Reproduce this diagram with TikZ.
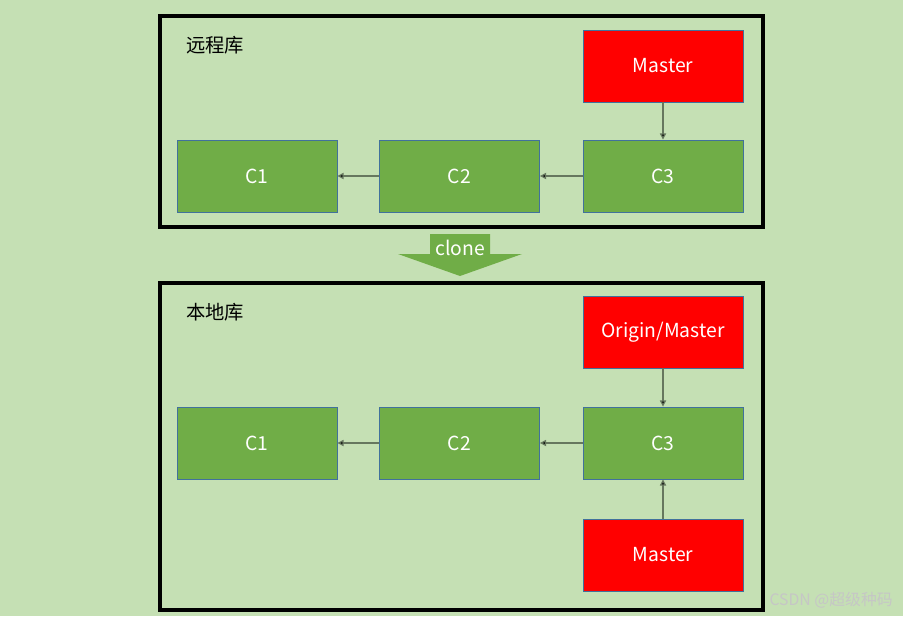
\documentclass[tikz,border=0pt]{standalone}
\usepackage{fontspec}
\setmainfont{Noto Sans CJK SC}
\usepackage{tikz}
\usetikzlibrary{positioning,arrows.meta}

\definecolor{PageGreen}{HTML}{C5E0B4}
\definecolor{CommitGreen}{HTML}{70AD47}
\definecolor{BoxEdge}{HTML}{41719C}
\definecolor{LinkGray}{HTML}{66775E}

\begin{document}
\begin{tikzpicture}[x=0.02cm, y=-0.02cm,
    commit/.style={draw=BoxEdge, line width=0.5pt, fill=CommitGreen, text=white,
      minimum width=3.2cm, minimum height=1.44cm, font=\fontsize{11}{13}\selectfont},
    branch/.style={commit, fill=red},
    repo/.style={draw=black, line width=2.2pt, minimum width=12.06cm},
    link/.style={LinkGray, line width=0.7pt, -{Triangle[length=3.5pt,width=3.5pt,fill=black]}}]
    % page
    \fill[PageGreen] (0,0) rectangle (903,616);
    \useasboundingbox (0,0) rectangle (903,616);

    % remote repository
    \node[repo, minimum height=4.22cm] (Remote) at (461.5,121.5) {};
    \node[anchor=west, font=\fontsize{11}{13}\selectfont] (RemoteLabel) at (180,45) {远程库};
    \node[branch] (RemoteMaster) at (663,66) {Master};
    \node[commit] (RemoteC1) at (257,176) {C1};
    \node[commit] (RemoteC2) at (459.5,176) {C2};
    \node[commit] (RemoteC3) at (663,176) {C3};

    \draw[link] (RemoteC3.west) -- (RemoteC2.east);
    \draw[link] (RemoteC2.west) -- (RemoteC1.east);
    \draw[link] (RemoteMaster.south) -- (RemoteC3.north);

    % clone arrow
    \fill[CommitGreen] (430,234) -- (490,234) -- (490,254) -- (522,254) -- (460,276)
      -- (398,254) -- (430,254) -- cycle;
    \node[text=white, font=\fontsize{11}{13}\selectfont] (Clone) at (460,248) {clone};

    % local repository
    \node[repo, minimum height=6.54cm] (Local) at (461.5,446.5) {};
    \node[anchor=west, font=\fontsize{11}{13}\selectfont] (LocalLabel) at (180,312) {本地库};
    \node[branch] (OriginMaster) at (663,332) {Origin/Master};
    \node[commit] (LocalC1) at (257,443) {C1};
    \node[commit] (LocalC2) at (459.5,443) {C2};
    \node[commit] (LocalC3) at (663,443) {C3};
    \node[branch] (LocalMaster) at (663,555) {Master};

    \draw[link] (LocalC3.west) -- (LocalC2.east);
    \draw[link] (LocalC2.west) -- (LocalC1.east);
    \draw[link] (OriginMaster.south) -- (LocalC3.north);
    \draw[link] (LocalMaster.north) -- (LocalC3.south);

    % watermark
    \node[anchor=east, inner sep=0pt, text=white!55!gray, font=\fontsize{9}{11}\selectfont] (Mark) at (893,600) {CSDN @超级种码};
\end{tikzpicture}
\end{document}
